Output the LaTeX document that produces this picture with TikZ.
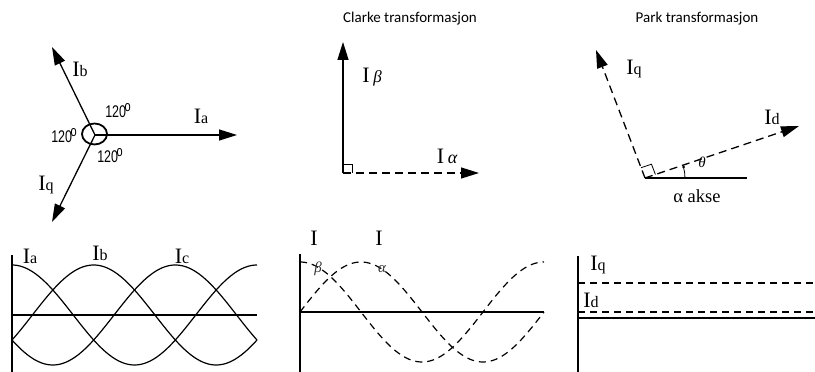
\documentclass[tikz,border=0pt]{standalone}
\usepackage{fontspec}
\usepackage{graphicx}
\setmainfont{Liberation Serif}
\newfontfamily\sanss{Liberation Sans}
\newfontfamily\carl{Carlito}
\usetikzlibrary{arrows.meta,calc}
\newcommand\Isub[1]{I{\fontsize{16}{16}\selectfont #1}}
\newcommand\degtxt{\scalebox{1}[1.35]{120\kern-1.5pt\raisebox{4.5pt}{\fontsize{11}{11}\selectfont o}}}
\begin{document}
\begin{tikzpicture}[x=1pt,y=1pt,
 vec/.style={line width=1.3pt, -{Triangle[length=18pt,width=11pt]}},
 dvec/.style={vec, dash pattern=on 8pt off 5pt},
 wave/.style={line width=1.2pt},
 dwave/.style={line width=1.2pt, dash pattern=on 7pt off 5pt},
 axisline/.style={line width=1.4pt},
 lbl/.style={inner sep=0pt, font=\fontsize{22}{22}\selectfont},
 deg/.style={inner sep=0pt, font=\sanss\fontsize{12.5}{12.5}\selectfont},
 ttl/.style={inner sep=0pt, font=\carl\fontsize{15}{15}\selectfont},
 greek/.style={inner sep=0pt, font=\fontsize{14}{14}\selectfont\itshape}]
\useasboundingbox (0,0) rectangle (815,372);
% ---------- three-phase phasors ----------
\coordinate (C) at (95,237);
\coordinate (Ta) at (237,237);
\coordinate (Tb) at (52,325);
\coordinate (Tq) at (52,150);
\draw[vec] (C) -- (Ta);
\draw[vec] (C) -- (Tb);
\draw[vec] (C) -- (Tq);
\draw[line width=1.8pt] (94.5,238) ellipse [x radius=12.5, y radius=10.5];
\node[lbl] (la) at (201,256) {\Isub{a}};
\node[lbl] (lb) at (80,303) {\Isub{b}};
\node[lbl] (lq) at (46,187) {\Isub{q}};
\node[deg] (d1) at (118,261) {\degtxt};
\node[deg] (d2) at (64,236) {\degtxt};
\node[deg] (d3) at (110,216) {\degtxt};
% ---------- Clarke ----------
\node[ttl] (tc) at (410,353) {Clarke transformasjon};
\coordinate (O1) at (343,199);
\coordinate (Tbeta) at (343,330);
\coordinate (Talpha) at (479,199);
\draw[vec] (O1) -- (Tbeta);
\draw[dvec] (O1) -- (Talpha);
\draw[line width=0.8pt] (343,208) -- (352,208) -- (352,199);
\node[lbl] (lbeta) at (372,295) {I\,{\fontsize{17}{17}\selectfont\itshape β}};
\node[lbl] (lalpha) at (447,216) {I\,{\fontsize{18}{18}\selectfont\itshape α}};
% ---------- Park ----------
\node[ttl] (tp) at (697,353) {Park transformasjon};
\coordinate (O2) at (645,194);
\coordinate (Ax) at (747,194);
\coordinate (Tiq) at (596,322);
\coordinate (Tid) at (799,246);
\draw[line width=1.2pt] (O2) -- (Ax);
\draw[dvec] (O2) -- (Tiq);
\draw[dvec] (O2) -- (Tid);
\draw[line width=0.8pt] ($(O2)!11pt!(Tiq)$) -- ++(10.4,3.5) -- ($(O2)!11pt!(Tid)$);
\draw[line width=0.8pt] (685,194) arc[start angle=0, end angle=16, radius=40];
\fill (683.6,205) circle (1.5);
\node[lbl] (liq) at (634,303) {\Isub{q}};
\node[lbl] (lid) at (772,255) {\Isub{d}};
\node[greek, font=\fontsize{15}{15}\selectfont\itshape] (lth) at (702,210) {θ};
\node[inner sep=0pt, font=\fontsize{18.5}{18.5}\selectfont] (lak) at (697,176) {α akse};
% ---------- three-phase waves ----------
\draw[axisline] (12,117) -- (12,0);
\draw[wave] (12,57) -- (257,57);
\draw[wave] plot[domain=0:360, samples=120] ({12+\x*0.68056}, {57+50*cos(\x)});
\draw[wave] plot[domain=0:360, samples=120] ({12+\x*0.68056}, {57+50*cos(\x-120)});
\draw[wave] plot[domain=0:360, samples=120] ({12+\x*0.68056}, {57+50*cos(\x-240)});
\node[lbl] (wa) at (30,116) {\Isub{a}};
\node[lbl] (wb) at (100,119) {\Isub{b}};
\node[lbl] (wc) at (182,116) {\Isub{c}};
% ---------- alpha-beta waves ----------
\draw[axisline] (300,118) -- (300,0);
\draw[wave] (300,60) -- (544,60);
\draw[dwave] plot[domain=0:360, samples=120] ({300+\x*0.67778}, {60+50*cos(\x)});
\draw[dwave] plot[domain=0:360, samples=120] ({300+\x*0.67778}, {60+50*sin(\x)});
\node[lbl] (wI1) at (314,134) {I};
\node[lbl] (wI2) at (379,134) {I};
\node[greek, font=\fontsize{15}{15}\selectfont\itshape, text=black!80] (wbe) at (318,103) {β};
\node[greek, font=\fontsize{15}{15}\selectfont\itshape, text=black!80] (wal) at (382,103) {α};
% ---------- dq lines ----------
\draw[axisline] (578,116) -- (578,0);
\draw[wave] (578,54) -- (815,54);
\draw[dwave] (578,89) -- (815,89);
\draw[dwave] (578,60) -- (815,60);
\node[lbl] (wq) at (598,107) {\Isub{q}};
\node[lbl] (wd) at (591,72) {\Isub{d}};
\end{tikzpicture}
\end{document}
